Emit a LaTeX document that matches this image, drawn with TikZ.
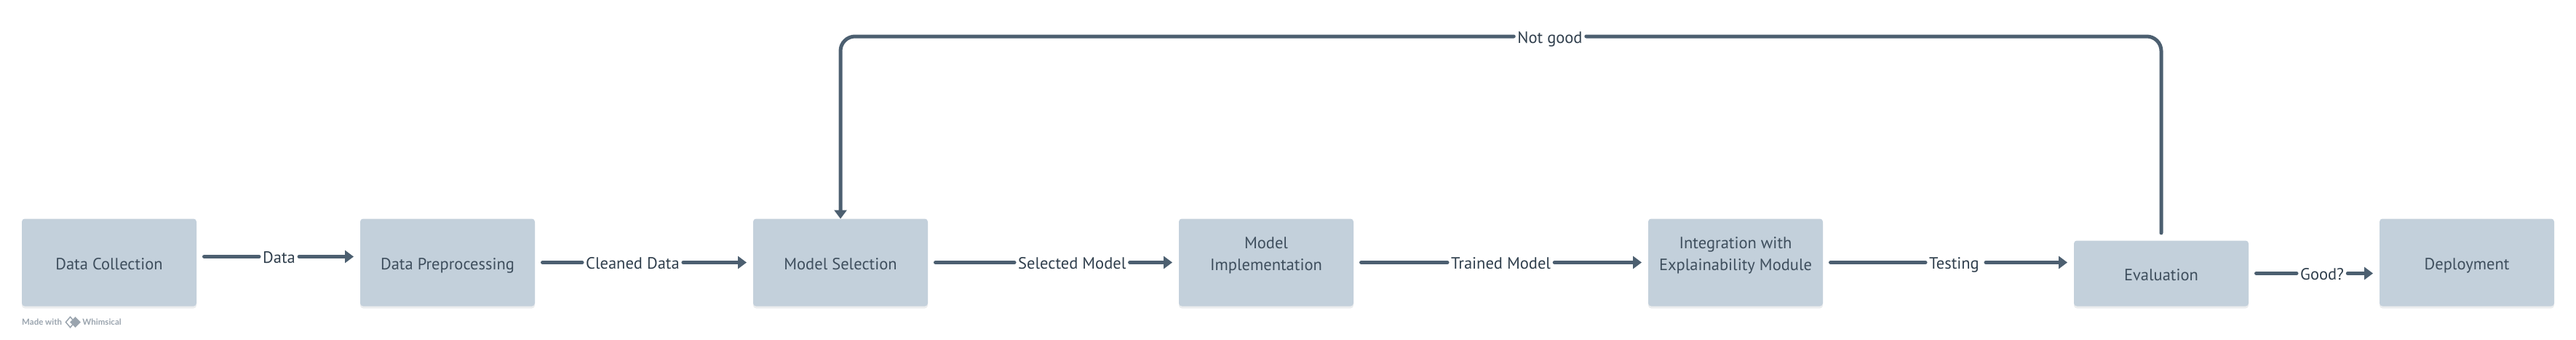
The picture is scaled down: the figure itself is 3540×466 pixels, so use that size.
\documentclass[tikz,border=0pt]{standalone}
\usepackage{fontspec}
\setmainfont{PT Sans}
\newfontfamily\badgefont{Lato}
\usetikzlibrary{positioning,arrows.meta,shadows,shapes.geometric}
\definecolor{boxfill}{HTML}{C3D0DB}
\definecolor{boxtext}{HTML}{3E4E5D}
\definecolor{flowcolor}{HTML}{4C5F70}
\definecolor{labeltext}{HTML}{2F3E4C}
\definecolor{badgecolor}{HTML}{9AA4AE}
\tikzset{
  stepbox/.style={rectangle, fill=boxfill, rounded corners=4pt, text=boxtext, align=center,
    minimum width=240pt, minimum height=120pt, inner sep=0pt, outer sep=0pt,
    font=\fontsize{22.5}{30}\selectfont,
    drop shadow={shadow xshift=0pt, shadow yshift=-3pt, opacity=.1, fill=boxtext}},
  oneline/.style={text height=20pt, text depth=0.6pt},
  twolines/.style={text height=26pt},
  flowlabel/.style={text=labeltext, inner xsep=5pt, inner ysep=0pt,
    font=\fontsize{22.5}{26}\selectfont, text height=20pt, text depth=2pt},
  flowline/.style={draw=flowcolor, line width=5pt, line cap=round},
  flowarrow/.style={flowline, -{Triangle[length=12pt,width=17pt]}},
  badgetext/.style={text=badgecolor, inner sep=0pt, font=\badgefont\bfseries\fontsize{11.5}{14}\selectfont}
}
\begin{document}
\begin{tikzpicture}
    \useasboundingbox (0,0) rectangle (3540pt,-466pt);

    % Steps
    \node[stepbox, oneline] (collection) at (150pt,-360.5pt) {Data Collection};
    \node[stepbox, oneline, right=225pt of collection] (preprocessing) {Data Preprocessing};
    \node[stepbox, oneline, right=300pt of preprocessing] (selection) {Model Selection};
    \node[stepbox, twolines, right=345pt of selection] (implementation) {Model\\Implementation};
    \node[stepbox, twolines, right=405pt of implementation] (integration) {Integration with\\Explainability Module};
    \node[stepbox, oneline, right=345pt of integration, yshift=-15pt, minimum height=90pt] (evaluation) {Evaluation};
    \node[stepbox, oneline, right=180pt of evaluation, yshift=15pt] (deployment) {Deployment};

    % Labels
    \node[flowlabel, right=86pt of collection, yshift=8pt] (data) {Data};
    \node[flowlabel, right=65pt of preprocessing] (cleaned) {Cleaned Data};
    \node[flowlabel, right=119pt of selection] (selected) {Selected Model};
    \node[flowlabel, right=129pt of implementation] (trained) {Trained Model};
    \node[flowlabel, right=141pt of integration] (testing) {Testing};
    \node[flowlabel, right=66pt of evaluation] (good) {Good?};
    \node[flowlabel] (notgood) at (2130pt,-50pt) {Not good};

    % Connections
    \draw[flowline, shorten <=10.5pt] ([yshift=8pt]collection.east) -- (data.west);
    \draw[flowarrow, shorten >=9pt] (data.east) -- ([yshift=8pt]preprocessing.west);
    \draw[flowline, shorten <=10.5pt] (preprocessing) -- (cleaned.west);
    \draw[flowarrow, shorten >=9pt] (cleaned.east) -- (selection);
    \draw[flowline, shorten <=10.5pt] (selection) -- (selected.west);
    \draw[flowarrow, shorten >=9pt] (selected.east) -- (implementation);
    \draw[flowline, shorten <=10.5pt] (implementation) -- (trained.west);
    \draw[flowarrow, shorten >=9pt] (trained.east) -- (integration);
    \draw[flowline, shorten <=10.5pt] (integration) -- (testing.west);
    \draw[flowarrow, shorten >=9pt, shorten <=4pt] (testing.east) -- (testing.east -| evaluation.west);
    \draw[flowline, shorten <=10.5pt] (evaluation) -- (good.west);
    \draw[flowarrow, shorten >=9pt] (good.east) -- (good.east -| deployment.west);

    % Feedback
    \draw[flowline, rounded corners=20pt, shorten <=10.5pt] (evaluation.north) |- (notgood.east);
    \draw[flowarrow, rounded corners=20pt] (notgood.west) -| (selection.north);

    % Badge
    \node[badgetext, anchor=west] (madewith) at ([yshift=-22pt]collection.south west) {Made with};
    \node[diamond, draw=badgecolor, line width=1.5pt, inner sep=0pt, minimum width=13pt, minimum height=15pt, right=4pt of madewith] (iconback) {};
    \node[diamond, fill=badgecolor, inner sep=0pt, minimum width=15pt, minimum height=15pt, right=-8pt of iconback] (iconfront) {};
    \node[badgetext, right=2pt of iconfront] (whimsical) {Whimsical};
\end{tikzpicture}
\end{document}
